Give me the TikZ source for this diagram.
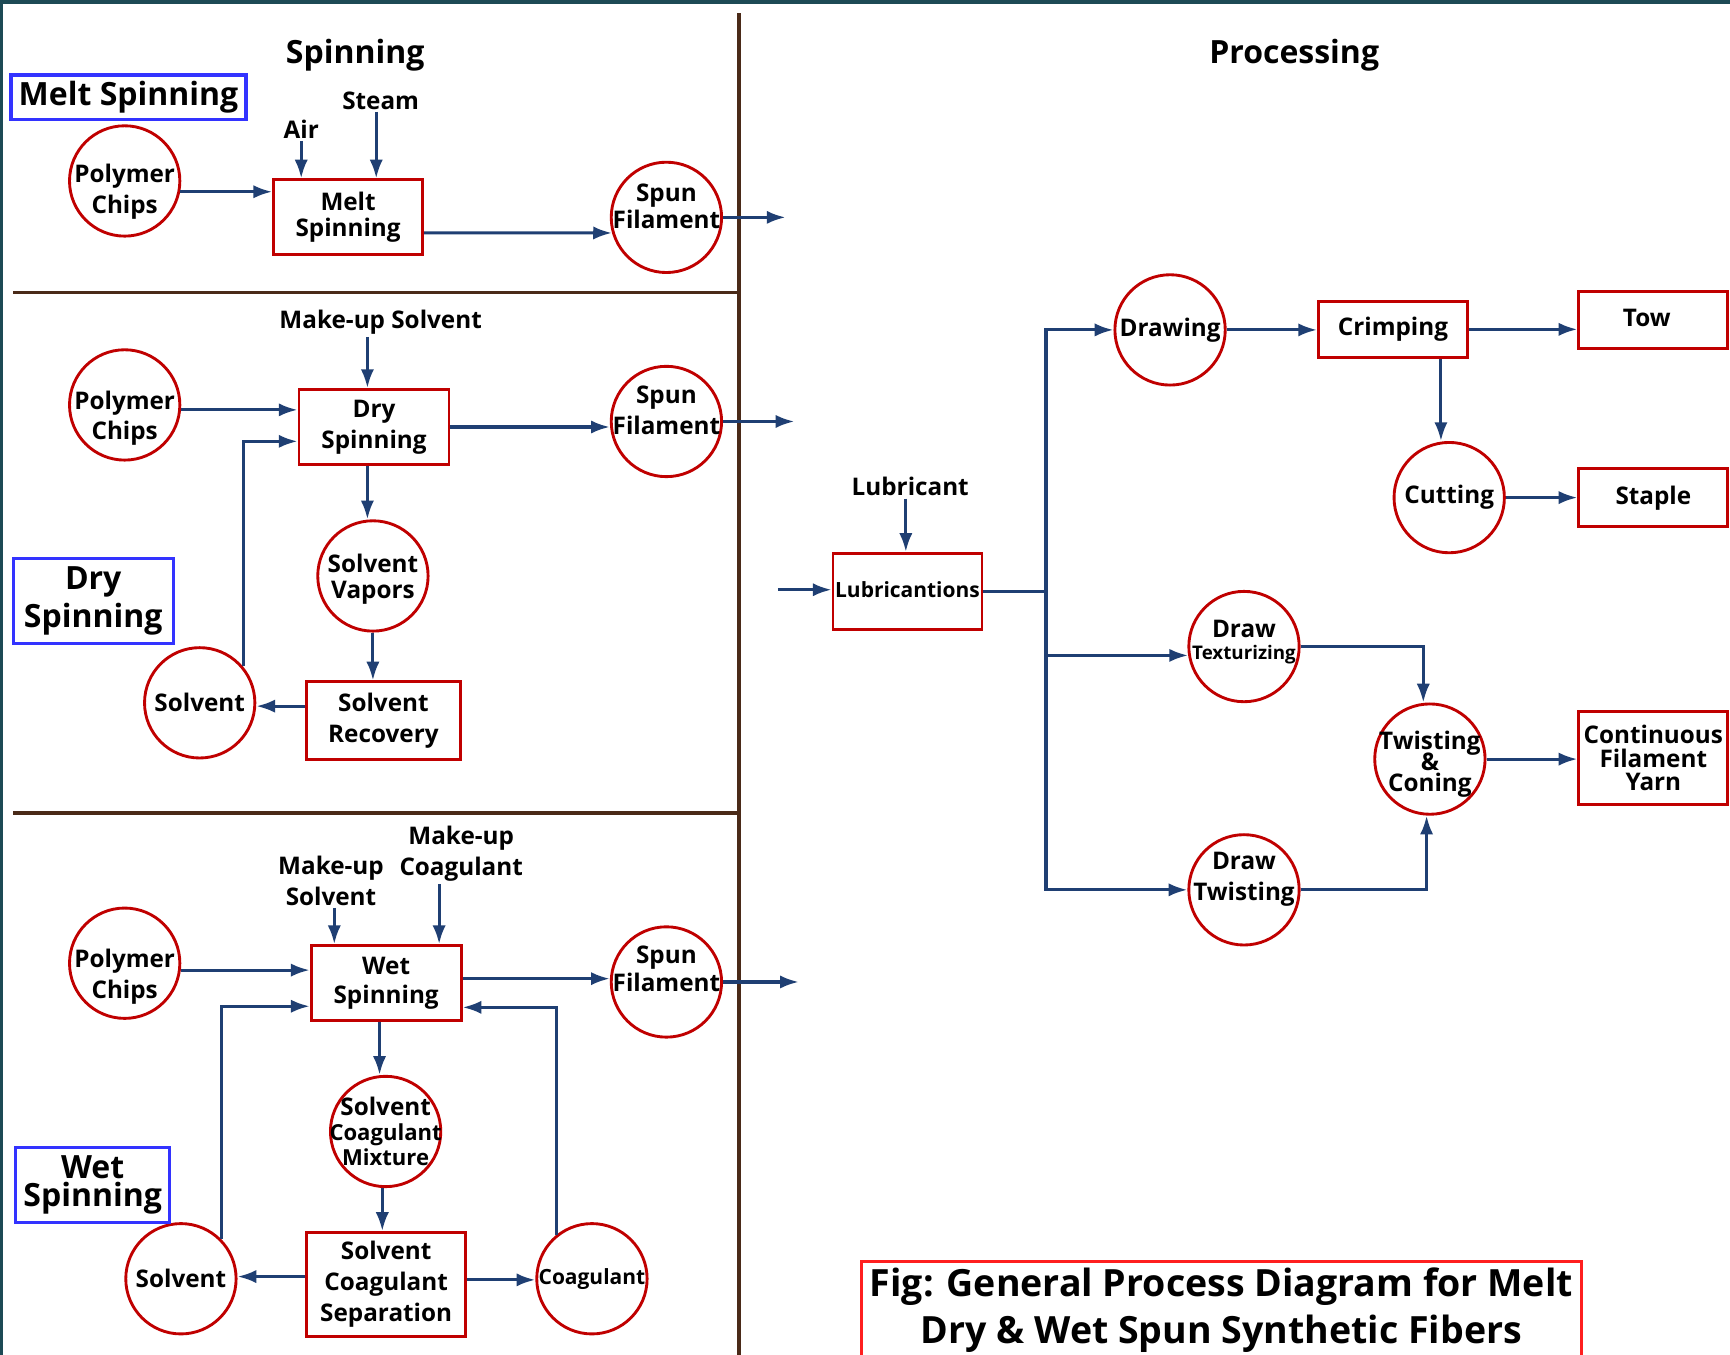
\documentclass[tikz,border=0pt]{standalone}
\usepackage{fontspec}
\setmainfont{Open Sans}
\usepackage{xcolor}
\usepackage{tikz}
\usetikzlibrary{arrows.meta}
\definecolor{frameteal}{HTML}{1D4A55}
\definecolor{edgered}{HTML}{C00000}
\definecolor{flowblue}{HTML}{1F3F73}
\definecolor{tagblue}{HTML}{3333FF}
\definecolor{dividerbrown}{HTML}{4A2A18}
\definecolor{captionred}{HTML}{FF1F1F}
\newcommand{\nodefont}{\fontsize{11}{14}\selectfont\bfseries}
\newcommand{\slimfont}{\fontsize{9.5}{12}\selectfont\bfseries}
\newcommand{\tagfont}{\fontsize{14.5}{17}\selectfont\bfseries}
\newcommand{\headfont}{\fontsize{14.5}{17}\selectfont\bfseries}
\newcommand{\capfont}{\fontsize{17}{21.5}\selectfont\bfseries}
\newcommand{\tightfont}[2]{\fontsize{#1}{#2}\selectfont\bfseries\lineskiplimit=-10pt\relax}
\tikzset{
  % node options
  stage/.style={circle,draw=edgered,line width=1.3pt,minimum size=50pt,inner sep=0pt},
  stagetext/.style={inner sep=0pt,align=center,font=\nodefont},
  unit/.style={rectangle,draw=edgered,line width=1.3pt,inner sep=0pt,align=center,font=\nodefont},
  oneline/.style={text height=8.4pt,text depth=2.6pt},
  tag/.style={rectangle,draw=tagblue,line width=1.4pt,inner sep=0pt,align=center,font=\tagfont},
  heading/.style={inner sep=1pt,font=\headfont},
  feed/.style={inner sep=1pt,align=center,font=\nodefont},
  caption/.style={rectangle,draw=captionred,line width=1.4pt,inner sep=0pt,align=center,font=\capfont},
  % path options
  flowline/.style={draw=flowblue,line width=1.4pt},
  flow/.style={flowline,-{Latex[length=8.5pt,width=6pt]}},
  divider/.style={draw=dividerbrown,line width=1.6pt},
}

\begin{document}
\begin{tikzpicture}[x=0.5pt,y=-0.5pt]
    \useasboundingbox (0,0) rectangle (1568,1228);
    \fill[white] (0,0) rectangle (1568,1228);
    \fill[frameteal] (0,0) rectangle (1568,3.5);
    \fill[frameteal] (0,0) rectangle (3,1228);
    \draw[divider] (670,12) -- (670,1228);
    \draw[divider] (12,265) -- (670,265);
    \draw[divider] (12,737) -- (670,737);

    \node[heading] (spinHead) at (322,50) {Spinning};
    \node[heading] (procHead) at (1173,50) {Processing};

    % melt spinning
    \node[tag,minimum width=106.5pt,minimum height=20pt] (meltTag) at (116.5,88) {Melt Spinning};
    \node[stage,label={[stagetext,yshift=-5pt]center:Polymer\\Chips}] (meltChips) at (113,164) {};
    \node[unit,minimum width=67.5pt,minimum height=34pt,font=\fontsize{11}{12}\selectfont\bfseries] (meltSpin) at (315.5,197) {Melt\\Spinning};
    \node[feed] (air) at (273,117) {Air};
    \node[feed] (steam) at (345,91) {Steam};
    \node[stage,label={[stagetext,font=\fontsize{11}{12}\selectfont\bfseries,yshift=5pt]center:Spun\\Filament}] (meltSpun) at (604,197) {};
    \coordinate (meltOut) at (712,197);
    \draw[flow] (air.south) -- (air.south |- meltSpin.north);
    \draw[flow] ([xshift=-2pt]steam.south) -- ([xshift=-2pt]steam.south |- meltSpin.north);
    \draw[flow] (meltChips.-11) -- (meltChips.-11 -| meltSpin.west);
    \draw[flow] ([yshift=-7pt]meltSpin.east) -- (meltSpun.196);
    \draw[flow] (meltSpun.east) -- (meltOut);

    % dry spinning
    \node[feed] (drySolv) at (345,292) {Make-up Solvent};
    \node[stage,label={[stagetext,yshift=-6pt]center:Polymer\\Chips}] (dryChips) at (113,367) {};
    \node[unit,minimum width=68pt,minimum height=34pt] (drySpin) at (339,387) {Dry\\Spinning};
    \node[stage,label={[stagetext,yshift=5pt]center:Spun\\Filament}] (drySpun) at (604,382) {};
    \coordinate (dryOut) at (720,382);
    \node[stage,label={[stagetext,font=\fontsize{11}{11.5}\selectfont\bfseries,yshift=-1.5pt]center:Solvent\\Vapors}] (vapors) at (338,522) {};
    \node[unit,minimum width=69.5pt,minimum height=35pt] (recovery) at (347.5,653) {Solvent\\Recovery};
    \node[stage,label={[stagetext]center:Solvent}] (drySolvent) at (181,637) {};
    \node[tag,minimum width=72.5pt,minimum height=38.5pt] (dryTag) at (84.5,544.5) {Dry\\Spinning};
    \draw[flow] ([xshift=-6pt]drySolv.south) -- ([xshift=-6pt]drySolv.south |- drySpin.north);
    \draw[flow] (dryChips.-5) -- (dryChips.-5 -| drySpin.west);
    \draw[flow] (drySolvent.40) |- ([yshift=-6.5pt]drySpin.west);
    \draw[flow] (drySpin.east) -- (drySpin.east -| drySpun.west);
    \draw[flow] (drySpun.east) -- (dryOut);
    \draw[flow] ([xshift=-3pt]drySpin.south) -- ([xshift=-3pt]drySpin.south |- vapors.north);
    \draw[flow] (vapors.south) -- (vapors.south |- recovery.north);
    \draw[flow] ([yshift=6.5pt]recovery.west) -- ([yshift=6.5pt]recovery.west -| drySolvent.east);

    % wet spinning
    \node[feed] (wetSolv) at (300,798) {Make-up\\Solvent};
    \node[feed] (wetCoag) at (418,774) {Make-up\\Coagulant};
    \node[stage,label={[stagetext,yshift=-6pt]center:Polymer\\Chips}] (wetChips) at (113,873) {};
    \node[unit,minimum width=68pt,minimum height=34pt,font=\fontsize{11}{13}\selectfont\bfseries] (wetSpin) at (350,891) {Wet\\Spinning};
    \node[stage,label={[stagetext,font=\fontsize{11}{12.5}\selectfont\bfseries,yshift=6pt]center:Spun\\Filament}] (wetSpun) at (604,890) {};
    \coordinate (wetOut) at (724,890);
    \node[stage,label={[stagetext,font=\tightfont{11}{11.5}]center:Solvent\\{\fontsize{10}{11.5}\selectfont Coagulant}\\{\fontsize{10}{11.5}\selectfont Mixture}}] (mixture) at (349.5,1025.5) {};
    \node[unit,minimum width=72pt,minimum height=47pt] (separation) at (350,1164) {Solvent\\Coagulant\\Separation};
    \node[stage,label={[stagetext]center:Solvent}] (wetSolvent) at (164,1159) {};
    \node[stage,label={[stagetext,font=\slimfont]center:Coagulant}] (coagulant) at (536.5,1159) {};
    \node[tag,minimum width=70pt,minimum height=34pt,font=\tightfont{14.5}{13}] (wetTag) at (84,1074) {Wet\\Spinning};
    \draw[flow] ([xshift=1.5pt]wetSolv.south) -- ([xshift=1.5pt]wetSolv.south |- wetSpin.north);
    \draw[flow] ([xshift=-10pt]wetCoag.south) -- ([xshift=-10pt]wetCoag.south |- wetSpin.north);
    \draw[flow] (wetChips.-7) -- (wetChips.-7 -| wetSpin.west);
    \draw[flow] (wetSolvent.44) |- ([yshift=-10.5pt]wetSpin.west);
    \draw[flow] (coagulant.129) |- ([yshift=-11pt]wetSpin.east);
    \draw[flow] ([yshift=2pt]wetSpin.east) -- ([yshift=2pt]wetSpin.east -| wetSpun.west);
    \draw[flow] (wetSpun.east) -- (wetOut);
    \draw[flow] ([xshift=-3pt]wetSpin.south) -- ([xshift=-3pt]wetSpin.south |- mixture.north);
    \draw[flow] ([xshift=-1.5pt]mixture.south) -- ([xshift=-1.5pt]mixture.south |- separation.north);
    \draw[flow] ([yshift=3.5pt]separation.west) -- ([yshift=3.5pt]separation.west -| wetSolvent.east);
    \draw[flow] ([yshift=2pt]separation.east) -- ([yshift=2pt]separation.east -| coagulant.west);

    % processing
    \node[feed] (lubricant) at (825,441) {Lubricant};
    \node[unit,oneline,minimum width=67.5pt,minimum height=34.5pt,font=\slimfont] (lubrication) at (822.5,536) {Lubricantions};
    \coordinate (procIn) at (705,534.5);
    \coordinate (bus) at (948,536);
    \node[stage,label={[stagetext]center:Drawing}] (drawing) at (1060.5,299) {};
    \node[unit,oneline,minimum width=67.5pt,minimum height=25.5pt] (crimping) at (1262.5,298.5) {Crimping};
    \node[unit,oneline,minimum width=67.5pt,minimum height=26pt] (tow) at (1498.5,290) {\hspace*{-6pt}Tow};
    \node[stage,label={[stagetext]center:Cutting}] (cutting) at (1313.5,451) {};
    \node[unit,oneline,minimum width=67.5pt,minimum height=26pt] (staple) at (1498.5,451) {Staple};
    \node[stage,label={[stagetext,font=\fontsize{11}{10}\selectfont\bfseries,yshift=2pt]center:Draw\\{\fontsize{8.5}{10}\selectfont Texturizing}}] (texturizing) at (1127.5,586) {};
    \node[stage,label={[stagetext,font=\tightfont{11}{9.5},yshift=-2.5pt]center:Twisting\\\&\\Coning}] (twisting) at (1296,688) {};
    \node[unit,minimum width=67.5pt,minimum height=42pt,font=\tightfont{11}{10.75}] (yarn) at (1498.5,687) {Continuous\\Filament\\Yarn};
    \node[stage,label={[stagetext,yshift=5pt]center:Draw\\Twisting}] (drawTwist) at (1127.5,806.5) {};
    \draw[flow] ([xshift=-2pt]lubricant.south) -- ([xshift=-2pt]lubricant.south |- lubrication.north);
    \draw[flow] (procIn) -- (procIn -| lubrication.west);
    \draw[flowline] (lubrication.east) -- (bus);
    \draw[flow] (bus) |- (drawing.west);
    \draw[flow] (bus) |- (texturizing.189);
    \draw[flow] (bus) |- (drawTwist.west);
    \draw[flow] (drawing.east) -- (drawing.east -| crimping.west);
    \draw[flow] (crimping.east) -- (crimping.east -| tow.west);
    \draw[flow] ([xshift=21.75pt]crimping.south) -- ([xshift=21.75pt]crimping.south |- cutting.north);
    \draw[flow] (cutting.east) -- (cutting.east -| staple.west);
    \draw[flow] (texturizing.east) -| ([xshift=-3pt]twisting.north);
    \draw[flow] (twisting.east) -- (twisting.east -| yarn.west);
    \draw[flow] (drawTwist.east) -| ([xshift=-1.5pt]twisting.south);

    \node[caption,minimum width=326pt,minimum height=44.5pt] (caption) at (1107,1187.5)
        {Fig: General Process Diagram for Melt\\Dry \& Wet Spun Synthetic Fibers};
\end{tikzpicture}
\end{document}
